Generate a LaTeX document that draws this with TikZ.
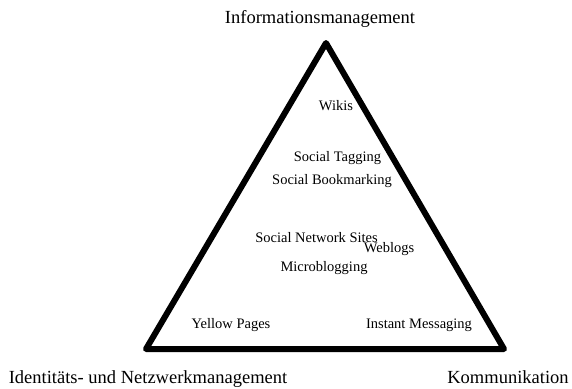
\documentclass[tikz,border=0pt]{standalone}
\usepackage{fontspec}
\setmainfont{Liberation Serif}
\begin{document}
\begin{tikzpicture}[x=1pt,y=-1pt,
  corner/.style={font=\fontsize{18.5}{20}\selectfont, inner sep=0pt, anchor=base},
  tool/.style={font=\fontsize{14.5}{16}\selectfont, inner sep=0pt, anchor=base},
  frame/.style={line width=6pt, line join=round}]
\useasboundingbox (0,0) rectangle (572,388);
% the three corners of the triangle
\coordinate (top) at (326,43);
\coordinate (left) at (146,349);
\coordinate (right) at (504,349);
\draw[frame] (top) -- (right) -- (left) -- cycle;
% corner labels (positioned by baseline)
\node[corner] (info) at (320,23) {Informationsmanagement};
\node[corner] (ident) at (148,383) {Identitäts- und Netzwerkmanagement};
\node[corner] (komm) at (508,383) {Kommunikation};
% tools placed inside the triangle
\node[tool] (wikis) at (336,110.5) {Wikis};
\node[tool] (tagging) at (337.5,161.5) {Social Tagging};
\node[tool] (bookmarking) at (332,184.5) {Social Bookmarking};
\node[tool] (sns) at (316.5,242) {Social Network Sites};
\node[tool] (weblogs) at (389,252.5) {Weblogs};
\node[tool] (micro) at (324,271) {Microblogging};
\node[tool] (yellow) at (231,328) {Yellow Pages};
\node[tool] (im) at (419,328) {Instant Messaging};
\end{tikzpicture}
\end{document}
